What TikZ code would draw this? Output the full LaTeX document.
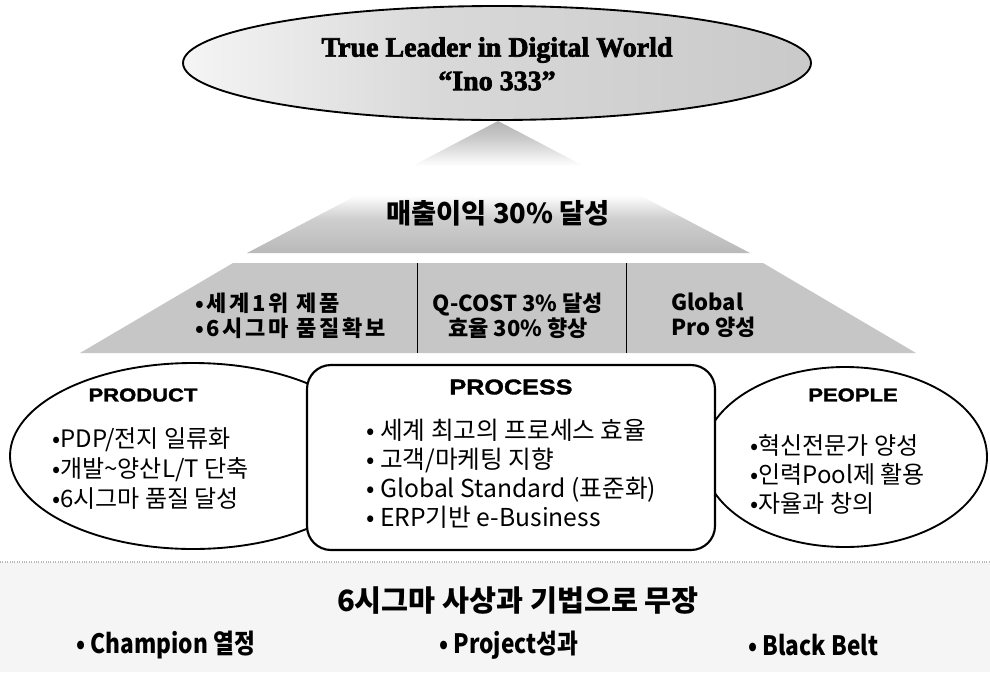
\documentclass[tikz,border=0pt]{standalone}
\usepackage{fontspec}
\setmainfont{Liberation Sans}
\newfontfamily\kr{Noto Sans CJK KR}
\newfontfamily\krs[LetterSpace=12]{Noto Sans CJK KR}
\newfontfamily\krc[FakeStretch=0.85]{Noto Sans CJK KR}
\newfontfamily\wide[FakeStretch=1.18, BoldFeatures={FakeBold=1.6}]{Liberation Sans}
\newfontfamily\heavyserif[BoldFeatures={FakeBold=2.5}]{Liberation Serif}
\usetikzlibrary{shapes.geometric}
\pgfdeclareverticalshading{pyrshade}{100bp}{color(0bp)=(gray!55); color(25bp)=(gray!55); color(38bp)=(gray!38); color(47bp)=(white); color(58bp)=(white); color(68bp)=(gray!40); color(75bp)=(gray!60); color(100bp)=(gray!60)}
\pgfdeclarehorizontalshading{ellshade}{100bp}{color(0bp)=(gray!8); color(25bp)=(gray!8); color(45bp)=(gray!30); color(75bp)=(gray!42); color(100bp)=(gray!42)}
\begin{document}
\begin{tikzpicture}[x=0.75pt,y=-0.75pt,
  outline/.style={draw=black, line width=1.4pt},
  tiertext/.style={font={\kr\bfseries\fontsize{16.5}{18.75}\selectfont}, align=left, inner sep=0pt},
  headtext/.style={font={\wide\bfseries\fontsize{14}{16}\selectfont}, inner sep=0pt},
  bultext/.style={font={\kr\fontsize{18}{22.5}\selectfont}, align=left, anchor=west, inner sep=0pt},
  bottext/.style={font={\krc\bfseries\fontsize{20}{24}\selectfont}, anchor=west, inner sep=0pt}]
\useasboundingbox (0,0) rectangle (990,672);
% bottom band
\fill[gray!8] (0,562) rectangle (990,672);
\draw[gray!55, densely dotted, line width=0.8pt] (0,562) -- (990,562);
% second tier
\fill[gray!45] (233,263) -- (763,263) -- (916,353) -- (80,353) -- cycle;
\coordinate (d1t) at (417,263); \coordinate (d1b) at (417,353);
\coordinate (d2t) at (626,263); \coordinate (d2b) at (626,353);
\draw[line width=0.6pt] (d1t) -- (d1b);
\draw[line width=0.6pt] (d2t) -- (d2b);
% pyramid top
\shade[shading=pyrshade] (498,121) -- (750,253) -- (247,253) -- cycle;
% top ellipse
\node[ellipse, outline, shade, shading=ellshade, minimum width=471pt, minimum height=85.5pt, inner sep=0pt] (vision) at (497,63) {};
\node[font={\heavyserif\bfseries\fontsize{21}{24}\selectfont}, inner sep=0pt] (t1) at (497,50) {True Leader in Digital World};
\node[font={\heavyserif\bfseries\fontsize{21}{24}\selectfont}, inner sep=0pt] (t2) at (497,81) {“Ino 333”};
% goal
\node[font={\kr\bfseries\fontsize{20.5}{24}\selectfont}, inner sep=0pt] (goal) at (498,213) {매출이익 30\% 달성};
% tier texts
\node[tiertext, font={\krs\bfseries\fontsize{16.5}{18.75}\selectfont}, anchor=west] (c1) at (195,315.5) {•세계1위 제품\\•6시그마 품질확보};
\node[tiertext, align=center] (c2) at (518,315.5) {Q-COST 3\% 달성\\효율 30\% 향상};
\node[tiertext, anchor=west] (c3) at (671,315.5) {Global\\Pro 양성};
% side ellipses
\node[ellipse, outline, fill=white, minimum width=274.5pt, minimum height=139.5pt, inner sep=0pt] (product) at (193,456) {};
\node[ellipse, outline, fill=white, minimum width=213pt, minimum height=135pt, inner sep=0pt] (people) at (845,457) {};
% process box
\node[draw=black, line width=1.6pt, fill=white, rounded corners=18pt, minimum width=306pt, minimum height=138.75pt, inner sep=0pt] (process) at (511,457.5) {};
% headings
\node[headtext] (hprod) at (143,395) {PRODUCT};
\node[headtext, font={\wide\bfseries\fontsize{16}{18}\selectfont}] (hproc) at (511,387) {PROCESS};
\node[headtext] (hpeop) at (853,395) {PEOPLE};
% bullets
\node[bultext] (lprod) at (52,469) {•PDP/전지 일류화\\•개발\textasciitilde 양산L/T 단축\\•6시그마 품질 달성};
\node[bultext, font={\kr\fontsize{18.5}{21.75}\selectfont}] (lproc) at (366,474) {• 세계 최고의 프로세스 효율\\• 고객/마케팅 지향\\• Global Standard (표준화)\\• ERP기반 e-Business};
\node[bultext, font={\kr\fontsize{18}{21.75}\selectfont}] (lpeop) at (750,474) {•혁신전문가 양성\\•인력Pool제 활용\\•자율과 창의};
% bottom band texts
\node[font={\kr\bfseries\fontsize{22}{26}\selectfont}, inner sep=0pt] (sigma) at (518,601) {6시그마 사상과 기법으로 무장};
\node[bottext] (b1) at (76,645) {• Champion 열정};
\node[bottext] (b2) at (439,645) {• Project성과};
\node[bottext] (b3) at (748,645) {• Black Belt};
\end{tikzpicture}
\end{document}
